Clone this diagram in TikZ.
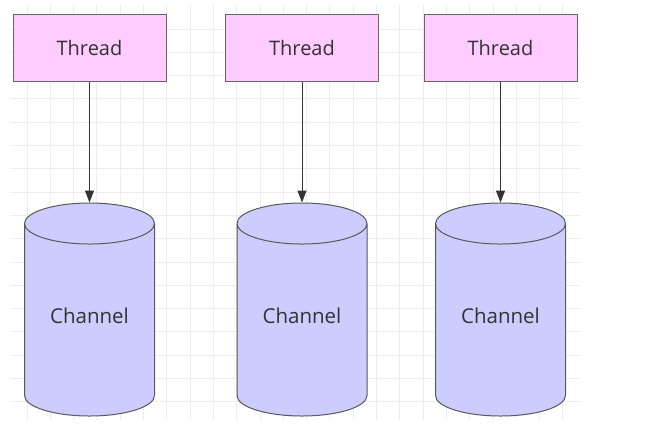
\documentclass[tikz,border=0pt]{standalone}
\usepackage{fontspec}
\setmainfont{Open Sans}
\usetikzlibrary{arrows.meta,positioning,shapes.geometric}
\definecolor{threadpink}{HTML}{FFCCFF}
\definecolor{chanblue}{HTML}{CCCCFF}
\definecolor{gridgray}{HTML}{EDEDED}

\begin{document}
\begin{tikzpicture}[x=1pt,y=-1pt,
	thread/.style={rectangle, draw=black!60, fill=threadpink, line width=1pt, minimum width=153pt, minimum height=67pt, font=\fontsize{20}{24}\selectfont, text=black!80},
	channel/.style={cylinder, shape border rotate=90, aspect=0.48, draw=black!65, fill=chanblue, line width=1pt, minimum width=130pt, minimum height=213pt, text depth=15pt, font=\fontsize{20.5}{24}\selectfont, text=black!80},
	link/.style={-{Triangle[length=12pt,width=9pt]}, line width=1pt, draw=black!80}]
		
		\useasboundingbox (0,0) rectangle (647,432);
		
		% background grid
		\foreach \gx in {0,...,23}
			\draw [gridgray] (26.7+23.3*\gx,5) -- (26.7+23.3*\gx,420);
		\foreach \gy in {0,...,16}
			\draw [gridgray] (10,28.7+23.3*\gy) -- (580,28.7+23.3*\gy);
		
		\node [thread] (t1) at (89.5,47.5) {Thread};
		\node [thread] (t2) at (302,47.5) {Thread};
		\node [thread] (t3) at (500.5,47.5) {Thread};
		
		\node [channel] (c1) [below=121pt of t1] {Channel};
		\node [channel] (c2) [below=121pt of t2] {Channel};
		\node [channel] (c3) [below=121pt of t3] {Channel};
		
		\draw [link] (t1) -- (c1);
		\draw [link] (t2) -- (c2);
		\draw [link] (t3) -- (c3);
		
	\end{tikzpicture}
\end{document}
